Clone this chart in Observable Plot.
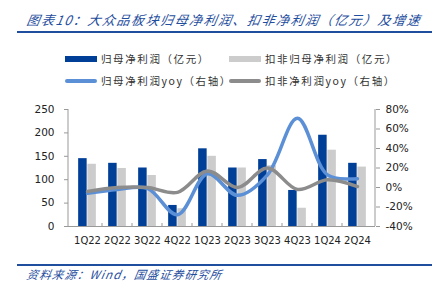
<!DOCTYPE html>
<html><head><meta charset="utf-8">
<script src="https://cdn.jsdelivr.net/npm/d3@7"></script>
<script src="https://cdn.jsdelivr.net/npm/@observablehq/plot@0.6"></script>
<style>
body{margin:0;background:#fff;}
#wrap{position:relative;width:445px;height:287px;overflow:hidden;background:#fff;font-family:"Noto Sans CJK SC",sans-serif;}
.title{position:absolute;left:27px;top:10px;font-size:13px;font-style:italic;color:#1f4e9e;white-space:nowrap;transform:skewX(-10deg);letter-spacing:1.5px;}
.hr{position:absolute;left:17px;width:415px;height:2px;background:#1f4e9e;}
.leg{position:absolute;font-size:10.5px;color:#333;white-space:nowrap;letter-spacing:1.6px;}
.sw{position:absolute;}
.src{position:absolute;left:27px;top:266px;font-size:11.5px;font-style:italic;color:#1f4e9e;white-space:nowrap;transform:skewX(-10deg);letter-spacing:1.1px;}
#chart{position:absolute;left:0;top:95px;}
</style></head>
<body><div id="wrap">
<div class="title">图表10：大众品板块归母净利润、扣非净利润（亿元）及增速</div>
<div class="hr" style="top:31px"></div>
<div id="legend"></div>
<div id="chart"></div>
<div class="hr" style="top:264px"></div>
<div class="src">资料来源：Wind，国盛证券研究所</div>
</div>
<script>
const quarters = ["1Q22","2Q22","3Q22","4Q22","1Q23","2Q23","3Q23","4Q23","1Q24","2Q24"];
const netProfit = [145, 135, 125, 45, 166, 125, 143, 77, 195, 135];
const deductedProfit = [133, 124, 109, 38, 150, 125, 130, 39, 163, 127];
const netProfitYoy = [-6, -2, -1, -28, 14, -8, 13, 71, 13, 9];
const deductedYoy = [-4, 0, 0, -5, 17, 0, 20, -2, 8, 1];
const leftTicks = [0, 50, 100, 150, 200, 250];
const rightTicks = [-40, -20, 0, 20, 40, 60, 80];
const seriesNames = ["归母净利润（亿元）", "扣非归母净利润（亿元）", "归母净利润yoy（右轴）", "扣非净利润yoy（右轴）"];
const colors = ["#003f98", "#cccccc", "#5b8fd6", "#8c8c8c"];

// legend
const leg = document.getElementById("legend");
const legPos = [[65, 59, "bar"], [229, 59, "bar"], [65, 81, "line"], [229, 81, "line"]];
seriesNames.forEach((n, i) => {
  const [x, y, kind] = legPos[i];
  const sw = document.createElement("div");
  sw.className = "sw";
  sw.style.left = x + "px";
  sw.style.width = "32px";
  sw.style.background = colors[i];
  if (kind === "bar") { sw.style.top = (y - 3) + "px"; sw.style.height = "6px"; }
  else { sw.style.top = (y - 2) + "px"; sw.style.height = "4px"; sw.style.borderRadius = "2px"; }
  leg.appendChild(sw);
  const t = document.createElement("div");
  t.className = "leg";
  t.textContent = n;
  t.style.left = (x + 36) + "px";
  t.style.top = (y - 8) + "px";
  leg.appendChild(t);
});

const data = quarters.map((q, i) => ({q, np: netProfit[i], dp: deductedProfit[i], npy: netProfitYoy[i], dpy: deductedYoy[i]}));
const toLeft = p => (p + 40) * 250 / 120;
const fromLeft = v => Math.round(v * 120 / 250 - 40);

const W = 445, mL = 68, mR = 70;
const bw = (W - mL - mR) / quarters.length;
const barW = 9.2;
const font = "DejaVu Sans, sans-serif";

const plot = Plot.plot({
  width: W, height: 160,
  marginLeft: mL, marginRight: mR, marginTop: 14, marginBottom: 29,
  style: {fontFamily: font, fontSize: "10px", color: "#222", background: "transparent"},
  x: {domain: quarters, padding: 0, axis: null},
  y: {domain: [0, 250], axis: null},
  marks: [
    Plot.barY(data, {x: "q", y: "np", fill: colors[0], insetLeft: bw / 2 - barW, insetRight: bw / 2}),
    Plot.barY(data, {x: "q", y: "dp", fill: colors[1], insetLeft: bw / 2, insetRight: bw / 2 - barW}),
    Plot.line(data, {x: "q", y: d => toLeft(d.npy), stroke: colors[2], strokeWidth: 3.5, curve: "catmull-rom"}),
    Plot.line(data, {x: "q", y: d => toLeft(d.dpy), stroke: colors[3], strokeWidth: 3.5, curve: "catmull-rom"}),
    Plot.axisY(leftTicks, {anchor: "left", tickSize: 4, tickPadding: 10, stroke: "#999", fontSize: 10.5, label: null}),
    Plot.axisY(rightTicks.map(toLeft), {anchor: "right", tickSize: 4, tickPadding: 6, stroke: "#999", tickFormat: v => fromLeft(v) + "%", fontSize: 10.5, label: null}),
    Plot.axisX(quarters, {anchor: "bottom", tickSize: 0, tickPadding: 10, fontSize: 10, label: null}),
    Plot.ruleY([0], {stroke: "#999"})
  ]
});
document.getElementById("chart").appendChild(plot);

// axis lines and category boundary ticks from the library scales
const xs = plot.scale("x"), ys = plot.scale("y");
const svg = d3.select(plot);
const [y0, y1] = [ys.apply(0), ys.apply(250)];
const [xl, xr] = xs.range;
svg.append("line").attr("x1", xl).attr("x2", xl).attr("y1", y0).attr("y2", y1).attr("stroke", "#999");
svg.append("line").attr("x1", xr).attr("x2", xr).attr("y1", y0).attr("y2", y1).attr("stroke", "#999");
quarters.slice(1).forEach(q => {
  const x = xs.apply(q);
  svg.append("line").attr("x1", x).attr("x2", x).attr("y1", y0).attr("y2", y0 - 3).attr("stroke", "#999");
});
</script>
</body></html>
